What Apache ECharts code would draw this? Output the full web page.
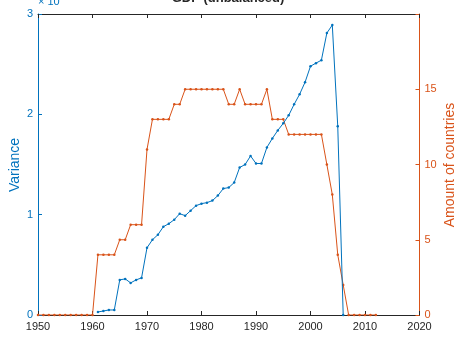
<!DOCTYPE html>
<html>
<head>
<meta charset="utf-8">
<script src="https://cdn.jsdelivr.net/npm/echarts@6/dist/echarts.min.js"></script>
<style>
html,body{margin:0;padding:0;background:#fff;}
#c{width:456px;height:339px;}
</style>
</head>
<body>
<div id="c"></div>
<script>
var titleText = 'GDP (unbalanced)';
var leftAxisName = 'Variance';
var rightAxisName = 'Amount of countries';
var xTicks = [1950, 1960, 1970, 1980, 1990, 2000, 2010, 2020];

var varianceStartYear = 1961;
var varianceValues = [0.03, 0.04, 0.05, 0.05, 0.35, 0.36, 0.32, 0.35, 0.37, 0.67,
  0.75, 0.80, 0.88, 0.91, 0.95, 1.01, 0.99, 1.04, 1.09, 1.11,
  1.12, 1.14, 1.19, 1.26, 1.27, 1.32, 1.47, 1.50, 1.585, 1.51,
  1.51, 1.67, 1.76, 1.84, 1.91, 1.99, 2.10, 2.20, 2.32, 2.48,
  2.51, 2.54, 2.81, 2.89, 1.88, 0.0];

var countStartYear = 1950;
var countValues = [0, 0, 0, 0, 0, 0, 0, 0, 0, 0, 0,
  4, 4, 4, 4, 5, 5, 6, 6, 6, 11,
  13, 13, 13, 13, 14, 14, 15, 15, 15, 15, 15, 15, 15, 15,
  14, 14, 15, 14, 14, 14, 14, 15, 13, 13, 13,
  12, 12, 12, 12, 12, 12, 12, 10, 8, 4, 2,
  0, 0, 0, 0, 0, 0];

var BLUE = '#0072BD';
var ORANGE = '#D95319';
var GRAY = '#262626';

function pairs(start, vals) {
  return vals.map(function (v, i) { return [start + i, v]; });
}

var chart = echarts.init(document.getElementById('c'), null, {renderer: 'canvas'});
var fontFam = '"Liberation Sans", Arial, Helvetica, sans-serif';

chart.setOption({
  animation: false,
  backgroundColor: '#fff',
  grid: {left: 38, right: 36.5, top: 14, bottom: 24, containLabel: false, outerBoundsMode: 'none'},
  xAxis: [{
    type: 'value', min: xTicks[0], max: xTicks[xTicks.length - 1], interval: 10,
    position: 'bottom',
    axisLine: {show: true, onZero: false, lineStyle: {color: GRAY, width: 1}},
    axisTick: {show: true, inside: true, length: 4, lineStyle: {color: GRAY}},
    axisLabel: {color: GRAY, fontSize: 11, fontFamily: fontFam, margin: 6,
      formatter: function (v) { return String(v); }},
    splitLine: {show: false}
  }, {
    type: 'value', min: xTicks[0], max: xTicks[xTicks.length - 1], interval: 10,
    position: 'top',
    axisLine: {show: true, onZero: false, lineStyle: {color: GRAY, width: 1}},
    axisTick: {show: true, inside: true, length: 4, lineStyle: {color: GRAY}},
    axisLabel: {show: false},
    splitLine: {show: false}
  }],
  yAxis: [{
    type: 'value', min: 0, max: 3, interval: 1, position: 'left',
    axisLine: {show: true, onZero: false, lineStyle: {color: BLUE, width: 1}},
    axisTick: {show: true, inside: true, length: 4, lineStyle: {color: BLUE}},
    axisLabel: {color: BLUE, fontSize: 11, fontFamily: fontFam, margin: 5},
    splitLine: {show: false}
  }, {
    type: 'value', min: 0, max: 20, interval: 5, position: 'right',
    axisLine: {show: true, onZero: false, lineStyle: {color: ORANGE, width: 1}},
    axisTick: {show: true, inside: true, length: 4, lineStyle: {color: ORANGE}},
    axisLabel: {color: ORANGE, fontSize: 11, fontFamily: fontFam, margin: 5,
      formatter: function (v) { return v >= 20 ? '' : String(v); }},
    splitLine: {show: false}
  }],
  graphic: [{
    type: 'text', left: 'center', top: -8,
    style: {text: titleText, fill: GRAY, font: 'bold 13px ' + fontFam}
  }, {
    type: 'text', left: 38, top: -4,
    style: {text: '\u00d7 10', fill: BLUE, font: '11px ' + fontFam}
  }, {
    type: 'text', left: 62, top: -8,
    style: {text: '-3', fill: BLUE, font: '8px ' + fontFam}
  }, {
    type: 'text', x: 15, y: 165, rotation: Math.PI / 2,
    style: {text: leftAxisName, fill: BLUE, font: '14px ' + fontFam, align: 'center', verticalAlign: 'middle'}
  }, {
    type: 'text', x: 450, y: 165, rotation: Math.PI / 2,
    style: {text: rightAxisName, fill: ORANGE, font: '14px ' + fontFam, align: 'center', verticalAlign: 'middle'}
  }],
  series: [{
    type: 'line', name: 'Variance', xAxisIndex: 0, yAxisIndex: 0,
    data: pairs(varianceStartYear, varianceValues),
    symbol: 'circle', symbolSize: 2.5, showSymbol: true,
    lineStyle: {color: BLUE, width: 1}, itemStyle: {color: BLUE},
    z: 3
  }, {
    type: 'line', name: 'Count', xAxisIndex: 0, yAxisIndex: 1,
    data: pairs(countStartYear, countValues),
    symbol: 'circle', symbolSize: 2.5, showSymbol: true,
    lineStyle: {color: ORANGE, width: 1}, itemStyle: {color: ORANGE},
    z: 2
  }]
});
</script>
</body>
</html>
